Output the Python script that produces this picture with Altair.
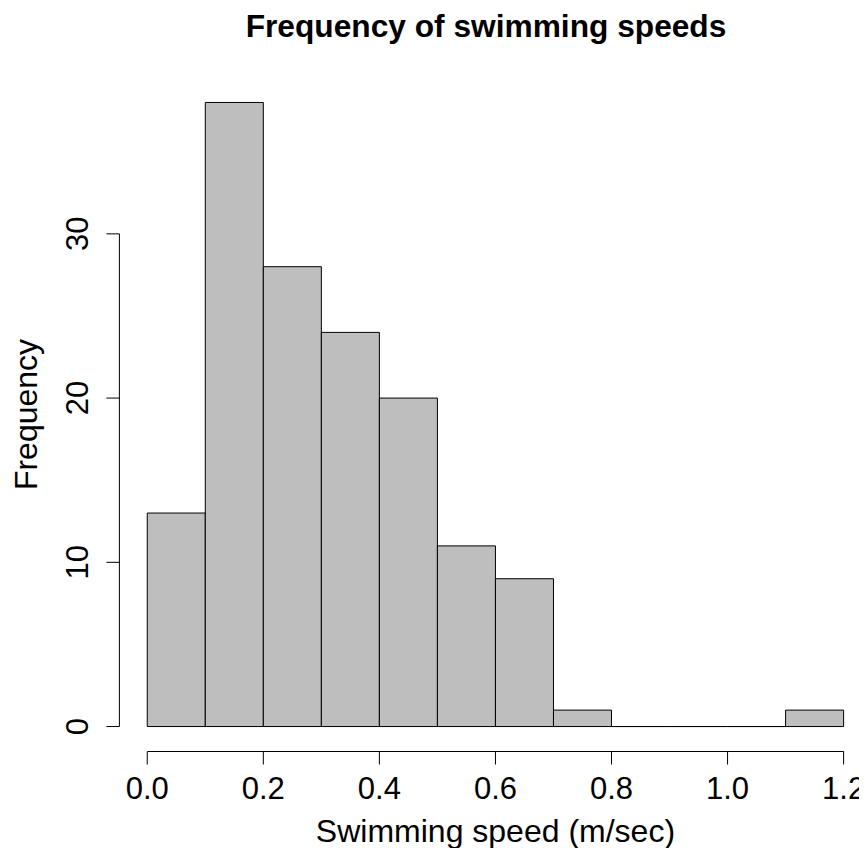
import altair as alt
import pandas as pd

# ---- data ----
bin_start = [0.0, 0.1, 0.2, 0.3, 0.4, 0.5, 0.6, 0.7, 0.8, 0.9, 1.0, 1.1]
bin_end = [0.1, 0.2, 0.3, 0.4, 0.5, 0.6, 0.7, 0.8, 0.9, 1.0, 1.1, 1.2]
counts = [13, 38, 28, 24, 20, 11, 9, 1, 0, 0, 0, 1]

x_ticks = [0.0, 0.2, 0.4, 0.6, 0.8, 1.0, 1.2]
x_tick_labels = ["0.0", "0.2", "0.4", "0.6", "0.8", "1.0", "1.2"]
y_ticks = [0, 10, 20, 30]
y_tick_labels = ["0", "10", "20", "30"]

main_title = "Frequency of swimming speeds"
x_title = "Swimming speed (m/sec)"
y_title = "Frequency"

FONT = "Liberation Sans"
W, H = 739.6, 674

hist_df = pd.DataFrame({"start": bin_start, "end": bin_end, "count": counts,
                        "base": [0] * len(counts)})
xt_df = pd.DataFrame({"v": x_ticks, "label": x_tick_labels})
yt_df = pd.DataFrame({"v": y_ticks, "label": y_tick_labels})
xline_df = pd.DataFrame({"lo": [min(x_ticks)], "hi": [max(x_ticks)]})
yline_df = pd.DataFrame({"lo": [min(y_ticks)], "hi": [max(y_ticks)]})

xs = alt.Scale(domain=[-0.048, 1.2265], nice=False, zero=False)
ys = alt.Scale(domain=[-1.52, 39.52], nice=False, zero=False)

bars = alt.Chart(hist_df).mark_rect(
    fill="#BEBEBE", stroke="black", strokeWidth=1
).encode(
    x=alt.X("start:Q", scale=xs, axis=None),
    x2="end:Q",
    y=alt.Y("count:Q", scale=ys, axis=None),
    y2="base:Q",
)

y_line = alt.Chart(yline_df).mark_rule(color="black", strokeWidth=1).encode(
    x=alt.value(0),
    y=alt.Y("lo:Q", scale=ys, axis=None),
    y2="hi:Q",
)
y_tick_marks = alt.Chart(yt_df).mark_rule(color="black", strokeWidth=1).encode(
    y=alt.Y("v:Q", scale=ys, axis=None),
    x=alt.value(0),
    x2=alt.value(-13),
)
y_labels = alt.Chart(yt_df).mark_text(
    angle=270, align="center", baseline="alphabetic", fontSize=31, font=FONT, color="black"
).encode(
    y=alt.Y("v:Q", scale=ys, axis=None),
    x=alt.value(-31.4),
    text="label:N",
)

x_line = alt.Chart(xline_df).mark_rule(color="black", strokeWidth=1).encode(
    x=alt.X("lo:Q", scale=xs, axis=None),
    x2="hi:Q",
    y=alt.value(H),
)
x_tick_marks = alt.Chart(xt_df).mark_rule(color="black", strokeWidth=1).encode(
    x=alt.X("v:Q", scale=xs, axis=None),
    y=alt.value(H),
    y2=alt.value(H + 13),
)
x_labels = alt.Chart(xt_df).mark_text(
    align="center", baseline="alphabetic", fontSize=31, font=FONT, color="black"
).encode(
    x=alt.X("v:Q", scale=xs, axis=None),
    y=alt.value(721.5),
    text="label:N",
)

x_title_mark = alt.Chart(pd.DataFrame({"t": [x_title], "c": [0.6]})).mark_text(
    align="center", baseline="alphabetic", fontSize=32, font=FONT, color="black"
).encode(
    x=alt.X("c:Q", scale=xs, axis=None),
    y=alt.value(764.5),
    text="t:N",
)
y_title_mark = alt.Chart(pd.DataFrame({"t": [y_title], "c": [19.0]})).mark_text(
    angle=270, align="center", baseline="alphabetic", fontSize=32, font=FONT, color="black"
).encode(
    y=alt.Y("c:Q", scale=ys, axis=None),
    x=alt.value(-82.4),
    text="t:N",
)
main_title_mark = alt.Chart(pd.DataFrame({"t": [main_title]})).mark_text(
    align="center", baseline="alphabetic", fontSize=31.7, fontWeight="bold", font=FONT, color="black"
).encode(
    x=alt.value(366.6),
    y=alt.value(-40.5),
    text="t:N",
)

chart = alt.layer(
    bars, y_line, y_tick_marks, y_labels, x_line, x_tick_marks, x_labels,
    x_title_mark, y_title_mark, main_title_mark,
).properties(
    width=W,
    height=H,
    autosize=alt.AutoSizeParams(type="none"),
    padding={"left": 111.4, "top": 69.5, "right": 0, "bottom": 96.5},
    background="white",
).configure_view(stroke=None)

chart.save("out.html", embed_options={"renderer": "svg", "actions": False})
